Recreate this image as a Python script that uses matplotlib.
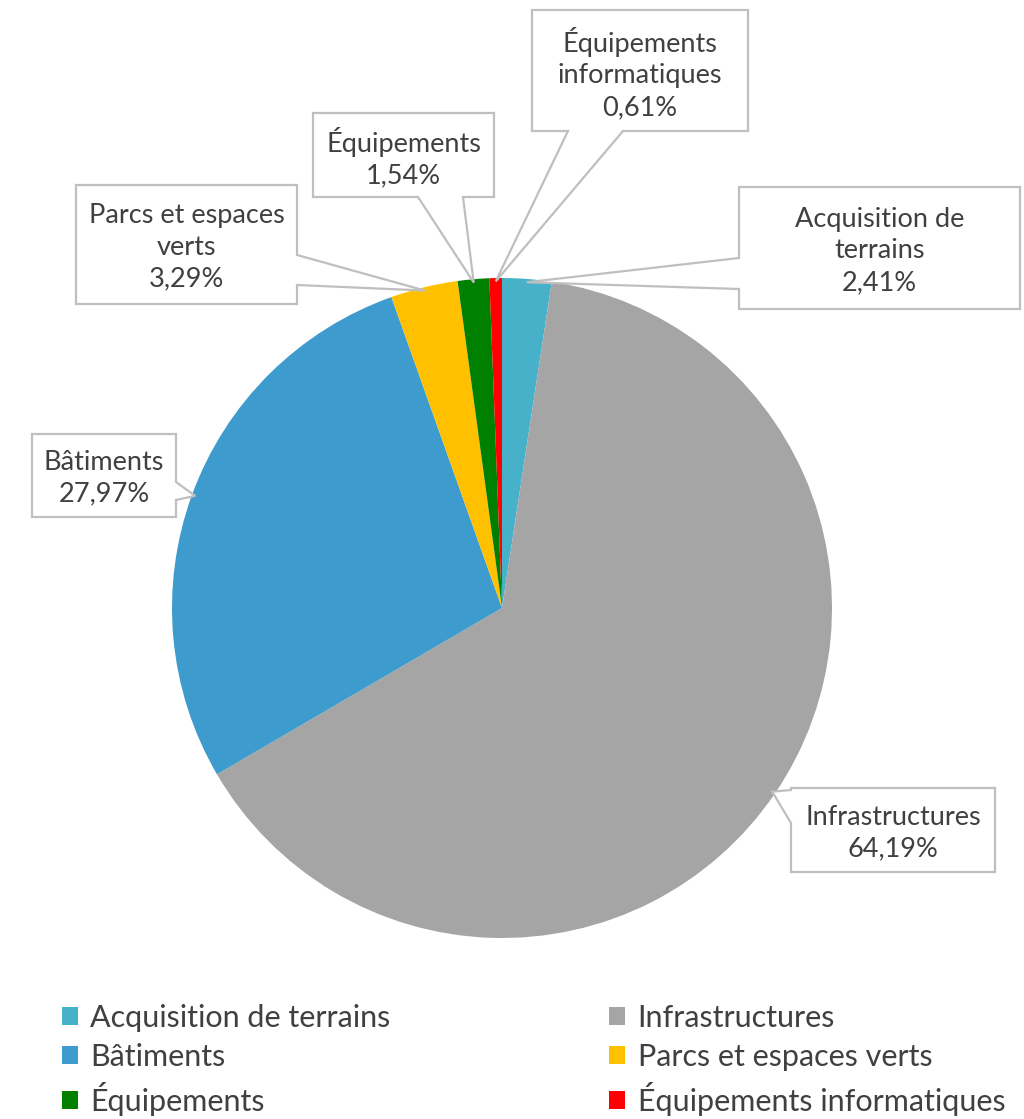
import numpy as np
import matplotlib.pyplot as plt
from matplotlib.patches import Polygon

categories = ["Acquisition de terrains", "Infrastructures", "Bâtiments",
              "Parcs et espaces verts", "Équipements", "Équipements informatiques"]
shares = [2.41, 64.19, 27.97, 3.29, 1.54, 0.61]
colors = ["#46B1C9", "#A5A5A5", "#3E9BCD", "#FFC000", "#008000", "#FF0000"]
# wrapped text used inside the callouts
callout_names = ["Acquisition de\nterrains", "Infrastructures", "Bâtiments",
                 "Parcs et espaces\nverts", "Équipements", "Équipements\ninformatiques"]

W, H = 1024, 1119
plt.rcParams['font.family'] = ['Lato', 'DejaVu Sans']
txt_color = '#404040'
box_color = '#BFBFBF'

fig = plt.figure(figsize=(W / 100, H / 100), dpi=100)
ax = fig.add_axes([0, 0, 1, 1])

cx, cy, r = 502, H - 608, 330
wedges, _ = ax.pie(shares, colors=colors, startangle=90, counterclock=False,
                   center=(cx, cy), radius=r)
ax.set_xlim(0, W)
ax.set_ylim(0, H)
ax.set_aspect('equal')
ax.axis('off')

# callout boxes: (x0, y0, x1, y1) in pixels from top-left, side of the tail, tail base
callouts = [
    ((739, 187, 1020, 309), 'left', (258, 289)),
    ((791, 788, 995, 872), 'left', (790, 823)),
    ((32, 434, 176, 517), 'right', (482, 500)),
    ((76, 185, 297, 304), 'right', (255, 285)),
    ((313, 113, 494, 197), 'bottom', (418, 463)),
    ((532, 10, 748, 131), 'bottom', (568, 623)),
]

for w, name, val, (box, side, base) in zip(wedges, callout_names, shares, callouts):
    mid = np.deg2rad((w.theta1 + w.theta2) / 2)
    tip = (cx + 0.99 * r * np.cos(mid), cy + 0.99 * r * np.sin(mid))
    x0, y0, x1, y1 = box
    a, b = base
    pts = [(x0, y0), (x1, y0)]
    if side == 'right':
        pts += [(x1, a), 'T', (x1, b)]
    pts += [(x1, y1)]
    if side == 'bottom':
        pts += [(b, y1), 'T', (a, y1)]
    pts += [(x0, y1)]
    if side == 'left':
        pts += [(x0, b), 'T', (x0, a)]
    verts = [tip if p == 'T' else (p[0], H - p[1]) for p in pts]
    ax.add_patch(Polygon(verts, closed=True, facecolor='white',
                         edgecolor=box_color, linewidth=1.6, zorder=3))
    pct = f"{val:.2f}".replace('.', ',') + '%'
    ax.text((x0 + x1) / 2, H - (y0 + y1) / 2 - 3, name + '\n' + pct,
            ha='center', va='center', fontsize=19.5, color=txt_color,
            linespacing=1.33, zorder=4)

order = [0, 2, 4, 1, 3, 5]
leg = ax.legend([wedges[i] for i in order], [categories[i] for i in order],
                ncol=2, loc='upper left', bbox_to_anchor=(62 / W, 1 - 1004 / H),
                frameon=False, fontsize=22, handlelength=0.52, handleheight=0.52,
                handletextpad=0.4, labelspacing=0.36, columnspacing=7.17,
                borderaxespad=0, borderpad=0)
for t in leg.get_texts():
    t.set_color(txt_color)

fig.savefig('out.png', dpi=100, facecolor='white')
